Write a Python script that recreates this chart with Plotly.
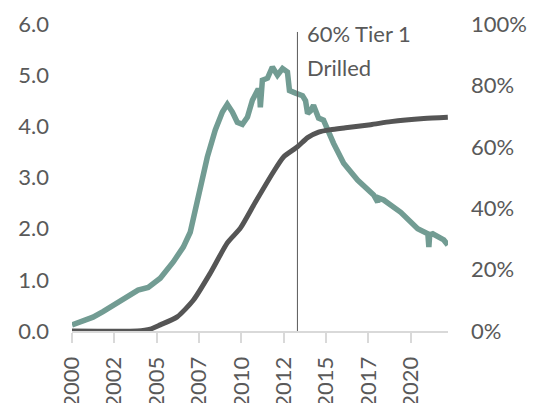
import plotly.graph_objects as go

# teal series (left axis), decimal years
prod_years = [2000.00, 2000.47, 2001.24, 2001.83, 2002.43, 2003.25, 2003.90, 2004.50,
              2005.21, 2005.98, 2006.57, 2006.98, 2007.28, 2007.46, 2007.99, 2008.46,
              2008.88, 2009.17, 2009.47, 2009.76, 2010.06, 2010.36, 2010.65, 2010.95,
              2011.07, 2011.12, 2011.18, 2011.24, 2011.54, 2011.83, 2012.13, 2012.43,
              2012.72, 2012.84, 2013.20, 2013.61, 2013.79, 2013.91, 2014.08, 2014.26,
              2014.56, 2014.85, 2015.44, 2016.04, 2016.86, 2017.81, 2018.05, 2018.11,
              2018.40, 2019.41, 2020.41, 2021.01, 2021.07, 2021.12, 2021.30, 2021.66,
              2021.95, 2022.19]
prod_vals = [0.12, 0.18, 0.27, 0.38, 0.50, 0.64, 0.80, 0.85,
             1.03, 1.35, 1.64, 1.93, 2.36, 2.56, 3.40, 3.93,
             4.28, 4.43, 4.28, 4.08, 4.04, 4.18, 4.51, 4.70,
             4.70, 4.37, 4.60, 4.90, 4.94, 5.16, 5.00, 5.13,
             5.06, 4.70, 4.65, 4.60, 4.50, 4.25, 4.30, 4.41,
             4.16, 4.12, 3.67, 3.28, 2.95, 2.66, 2.52, 2.60,
             2.56, 2.32, 2.00, 1.90, 1.64, 1.88, 1.90, 1.84,
             1.78, 1.68]

# dark series (right axis), share of tier 1 drilled
drilled_years = [2000.00, 2003.85, 2004.62, 2005.21, 2006.21, 2007.16, 2008.17, 2009.17,
                 2009.94, 2010.83, 2011.89, 2012.49, 2013.31, 2013.91, 2014.56, 2015.27,
                 2016.15, 2017.63, 2018.82, 2020.77, 2022.19]
drilled_pct = [0.000, 0.000, 0.006, 0.020, 0.046, 0.100, 0.189, 0.287,
               0.335, 0.420, 0.518, 0.567, 0.600, 0.630, 0.648, 0.656,
               0.662, 0.672, 0.682, 0.692, 0.696]

tick_vals = [2000, 2002.5, 2005, 2007.5, 2010, 2012.5, 2015, 2017.5, 2020]
tick_text = ["2000", "2002", "2005", "2007", "2010", "2012", "2015", "2017", "2020"]

marker_year = 2013.31
note_lines = ["60% Tier 1", "Drilled"]

font_col = "#595959"
fnt = dict(family="Lato", size=22, color=font_col)

fig = go.Figure()
fig.add_trace(go.Scatter(x=prod_years, y=prod_vals, mode="lines",
                         line=dict(color="#729c93", width=5.5), yaxis="y"))
fig.add_trace(go.Scatter(x=drilled_years, y=drilled_pct, mode="lines",
                         line=dict(color="#555555", width=5, shape="spline", smoothing=0.6),
                         yaxis="y2"))

fig.add_shape(type="line", x0=marker_year, x1=marker_year, y0=0, y1=0.974,
              xref="x", yref="paper", line=dict(color=font_col, width=1))
# two lines, set a bit further apart than the default line height
for i, txt in enumerate(note_lines):
    fig.add_annotation(x=marker_year, y=1.02, xref="x", yref="paper",
                       text=txt, showarrow=False, yshift=-34 * i,
                       xanchor="left", yanchor="top", align="left", xshift=8,
                       font=fnt)

# page body has an 8px margin, so the figure is a bit smaller than the window
fig.update_layout(
    width=529, height=395,
    margin=dict(l=64, r=89, t=16, b=72),
    plot_bgcolor="white", paper_bgcolor="white",
    showlegend=False,
    font=fnt,
    xaxis=dict(range=[2000, 2022.2], tickvals=tick_vals, ticktext=tick_text,
               tickangle=-90, showgrid=False, zeroline=False, automargin=False,
               showline=True, linecolor="#d9d9d9", linewidth=2,
               ticks="outside", ticklen=10, tickcolor="#d9d9d9", tickwidth=2,
               ticklabelstandoff=5, tickfont=fnt),
    yaxis=dict(range=[0, 6], dtick=1, tickformat=".1f", showgrid=False,
               zeroline=False, showline=False, tickfont=fnt, automargin=False,
               ticklabelstandoff=22),
    yaxis2=dict(range=[0, 1], dtick=0.2, tickformat=".0%", overlaying="y",
                side="right", showgrid=False, zeroline=False, showline=False,
                tickfont=fnt, ticklabelstandoff=22, automargin=False),
)

fig.write_html("out.html")
